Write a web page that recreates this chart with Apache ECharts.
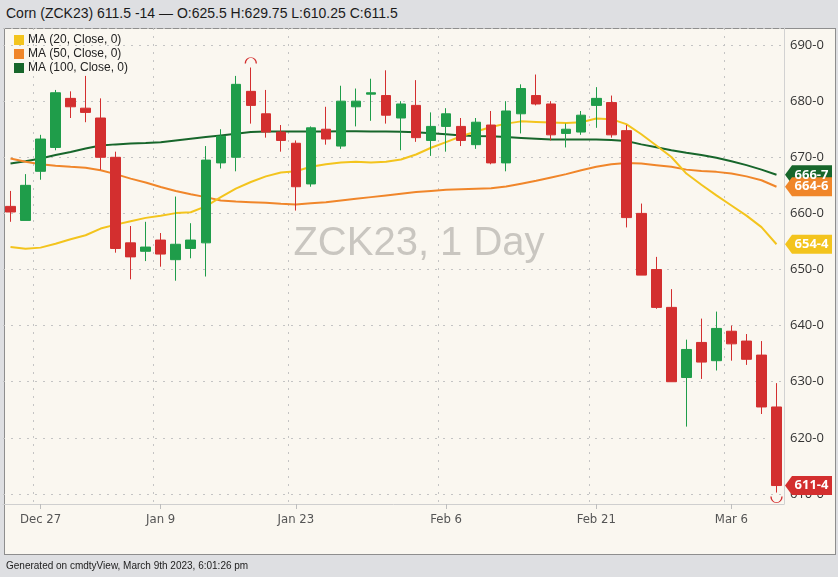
<!DOCTYPE html>
<html><head><meta charset="utf-8">
<script src="https://cdn.jsdelivr.net/npm/echarts@6/dist/echarts.min.js"></script>
<style>
html,body{margin:0;padding:0;width:838px;height:577px;background:#dedfe2;overflow:hidden;}
#hdr{position:absolute;left:6px;top:5px;font:14px 'Liberation Sans',Arial,sans-serif;color:#1a1a1a;white-space:nowrap;}
#panel{position:absolute;left:4px;top:28px;width:830px;height:525px;border:1px solid #8e8e8e;background:#faf7f0;}
#chart{position:absolute;left:0;top:0;width:838px;height:577px;}
#ftr{position:absolute;left:6px;top:560px;font:10px 'Liberation Sans',Arial,sans-serif;color:#222;white-space:nowrap;}
</style></head>
<body>
<div id="hdr">Corn (ZCK23) 611.5 -14 — O:625.5 H:629.75 L:610.25 C:611.5</div>
<div id="panel"></div>
<div id="chart"></div>
<div id="ftr">Generated on cmdtyView, March 9th 2023, 6:01:26 pm</div>
<script>
const dates = ['Dec 22','Dec 23','Dec 27','Dec 28','Dec 29','Dec 30','Jan 3','Jan 4','Jan 5','Jan 6','Jan 9','Jan 10','Jan 11','Jan 12','Jan 13','Jan 17','Jan 18','Jan 19','Jan 20','Jan 23','Jan 24','Jan 25','Jan 26','Jan 27','Jan 30','Jan 31','Feb 1','Feb 2','Feb 3','Feb 6','Feb 7','Feb 8','Feb 9','Feb 10','Feb 13','Feb 14','Feb 15','Feb 16','Feb 17','Feb 21','Feb 22','Feb 23','Feb 24','Feb 27','Feb 28','Mar 1','Mar 2','Mar 3','Mar 6','Mar 7','Mar 8','Mar 9'];
const tickLabels = ['Dec 27','Jan 9','Jan 23','Feb 6','Feb 21','Mar 6'];
const opens  = [661.25,658.75,667.5,671.75,680.5,678.75,677,670,654.75,653.25,655.25,651.75,653.75,654.75,669,670,681.75,677.75,674.5,672.5,665.25,675,672,679,681.25,681,677,679.25,673,675.5,675.5,672.25,675.75,669,677.75,681,679.5,674.25,674.5,679.25,679.75,674.75,660,650,643.25,630.75,637,633.75,639,637.25,634.75,625.5];
const highs  = [664,667,674,682,681.75,684.5,680.5,671,657.75,658.5,656.5,663,658.25,672,675,684.5,686,682,675.75,673,675.5,679,682.75,682.25,684,685.5,680,683.75,678,678.75,677,677,678.25,680,683,684.75,680,676,678.25,682.5,681,675.75,661.75,652.25,646.5,637.5,641.25,642.5,640,638.5,637.25,629.75];
const lows   = [658.5,658.75,666,671.25,677,676.25,667.75,653,648.25,651.5,650.5,648,652,648.75,668,667.5,676,673.5,671,660.5,664.75,672.25,671.5,675.5,676.5,676,671.25,672.75,670.25,671,672,671.5,668.75,667.5,674.25,679.25,673,671.75,674,675.25,673.5,657.5,649,643,630,622,630.5,632,633.75,633,624.25,610.25];
const closes = [660.25,665,673.25,681.5,679,678,670,653.75,652.25,654,652.75,654.5,655.25,669.5,673.75,683,679.25,674.5,673,664.75,675.25,673.25,680,680,681.5,677.5,679.5,673.5,675.5,677.75,673,676.25,669,678.25,682.25,679.5,674,675,677.5,680.5,674,659.25,649,643.25,630,635.75,633.5,639.5,636.75,634,625.5,611.5];
const ma20  = [654.0,653.7,653.9,654.6,655.4,656.1,657.3,658.0,658.6,659.2,659.6,660.05,660.2,661.25,662.9,664.4,665.6,666.6,667.3,667.5,668.3,668.75,669.05,669.2,669.05,669.2,669.6,670.5,671.7,672.7,673.75,674.6,675.4,676.0,676.4,676.3,676.2,676.1,676.25,676.9,676.8,675.9,674.1,672.1,670.05,667.1,665.1,663.2,661.4,659.6,657.55,654.5];
const ma50  = [669.8,669.2,668.75,668.5,668.3,668.15,667.7,667.0,666.2,665.5,664.7,664.0,663.4,662.9,662.3,662.1,662.0,661.9,661.7,661.6,661.8,662.0,662.3,662.6,662.9,663.2,663.5,663.8,664.0,664.2,664.3,664.4,664.5,664.8,665.3,665.8,666.4,667.0,667.7,668.3,668.75,669.0,668.9,668.6,668.3,667.8,667.55,667.4,667.1,666.6,665.9,664.75];
const ma100 = [668.9,669.3,669.8,670.4,670.95,671.55,672.1,672.3,672.45,672.55,672.7,673.0,673.3,673.6,673.9,674.2,674.5,674.6,674.6,674.6,674.6,674.6,674.65,674.65,674.6,674.6,674.55,674.45,674.3,674.1,673.9,673.8,673.75,673.6,673.45,673.3,673.15,673.15,673.15,673.15,673.1,672.9,672.3,671.8,671.25,670.8,670.4,669.9,669.3,668.6,667.8,666.875];
const seriesNames = ['MA (20, Close, 0)','MA (50, Close, 0)','MA (100, Close, 0)'];
const tagTexts = {ma20:'654-4', ma50:'664-6', ma100:'666-7', last:'611-4'};

const UP = '#1f9d4a', DOWN = '#d32f2f';
const C20 = '#f3c41d', C50 = '#f0862a', C100 = '#17662b';
const last = dates.length - 1;
const tagPath = 'path://M0,9.5 L7,0 L47,0 L47,19 L7,19 Z';
function tag(val, text, color) {
  return {
    symbol: tagPath, symbolSize: [47, 19], symbolKeepAspect: false, symbolOffset: [32, 0], silent: true,
    data: [{ coord: [dates[last], val], value: text }],
    itemStyle: { color: color },
    label: { show: true, formatter: text, color: '#fff', fontWeight: 'bold', fontSize: 13,
             fontFamily: "'Open Sans', sans-serif", offset: [3, 0] }
  };
}
const candleData = dates.map((d, i) => [opens[i], closes[i], lows[i], highs[i]]);
let hiIdx = 0, loIdx = 0;
highs.forEach((h, i) => { if (h > highs[hiIdx]) hiIdx = i; });
lows.forEach((l, i) => { if (l < lows[loIdx]) loIdx = i; });

const showTick = (idx, val) => tickLabels.indexOf(val) >= 0;
const chart = echarts.init(document.getElementById('chart'));
chart.setOption({
  animation: false,
  backgroundColor: 'transparent',
  textStyle: { fontFamily: "'Liberation Sans', Arial, sans-serif" },
  graphic: [{
    type: 'text', left: 'center', top: 224, z: -5, silent: true,
    style: { text: 'ZCK23, 1 Day', fontSize: 40, fill: '#c9c6c0', fontFamily: "'Liberation Sans', Arial, sans-serif" }
  }],
  legend: {
    data: seriesNames, orient: 'vertical', left: 9, top: 29, itemGap: 2,
    icon: 'rect', itemWidth: 10, itemHeight: 10,
    textStyle: { fontSize: 12, color: '#222', padding: [0, 0, 0, -1] }
  },
  grid: { left: 3, top: 28, width: 781, height: 476 },
  xAxis: {
    type: 'category', data: dates, boundaryGap: true,
    axisLine: { lineStyle: { color: '#cfcfcf' } },
    axisTick: { show: true, interval: showTick, alignWithLabel: true, length: 5, lineStyle: { color: '#bdbdbd' } },
    axisLabel: { interval: showTick, color: '#555', fontSize: 13, margin: 9,
                 fontFamily: "'Liberation Sans Narrow', 'DejaVu Sans Condensed', sans-serif" },
    splitLine: { show: true, interval: showTick, lineStyle: { color: '#c4c4c4', type: [2, 6] } }
  },
  yAxis: {
    type: 'value', position: 'right', min: 608.21, max: 693.04, splitNumber: 8, scale: true,
    axisLine: { show: true, lineStyle: { color: '#d2d2d2' } },
    axisTick: { show: false },
    axisLabel: { color: '#333', fontSize: 13, margin: 6, fontFamily: "'Open Sans', sans-serif",
      formatter: v => (Math.abs(v - Math.round(v / 10) * 10) < 1e-6 ? Math.round(v) + '-0' : '') },
    splitLine: { show: true, lineStyle: { color: '#c4c4c4', type: [2, 6] } }
  },
  series: [
    { name: seriesNames[2], type: 'line', data: ma100, symbol: 'none', z: 2,
      lineStyle: { color: C100, width: 2 }, itemStyle: { color: C100 }, markPoint: tag(ma100[last], tagTexts.ma100, C100) },
    { name: seriesNames[1], type: 'line', data: ma50, symbol: 'none', z: 3,
      lineStyle: { color: C50, width: 2 }, itemStyle: { color: C50 }, markPoint: tag(ma50[last], tagTexts.ma50, C50) },
    { name: seriesNames[0], type: 'line', data: ma20, symbol: 'none', z: 3,
      lineStyle: { color: C20, width: 2 }, itemStyle: { color: C20 }, markPoint: tag(ma20[last], tagTexts.ma20, C20) },
    { type: 'candlestick', data: candleData, barWidth: 10, z: 5,
      itemStyle: { color: UP, color0: DOWN, borderColor: UP, borderColor0: DOWN, borderWidth: 1 },
      markPoint: {
        silent: true,
        data: [
          { coord: [dates[last], closes[last]], symbol: tagPath, symbolSize: [47, 19], symbolKeepAspect: false,
            symbolOffset: [32, 0], itemStyle: { color: DOWN },
            label: { show: true, formatter: tagTexts.last, color: '#fff', fontWeight: 'bold', fontSize: 13,
                     fontFamily: "'Open Sans', sans-serif", offset: [3, 0] } },
          { coord: [dates[hiIdx], highs[hiIdx]], symbol: 'path://M0,10 A10,10 0 0 1 20,10', symbolSize: [11, 6],
            symbolOffset: [0, -7], itemStyle: { color: 'none', borderColor: DOWN, borderWidth: 1 }, label: { show: false } },
          { coord: [dates[loIdx], lows[loIdx]], symbol: 'path://M0,0 A10,10 0 0 0 20,0', symbolSize: [11, 6],
            symbolOffset: [0, 7], itemStyle: { color: 'none', borderColor: DOWN, borderWidth: 1 }, label: { show: false } }
        ]
      } }
  ]
});
</script>
</body></html>
